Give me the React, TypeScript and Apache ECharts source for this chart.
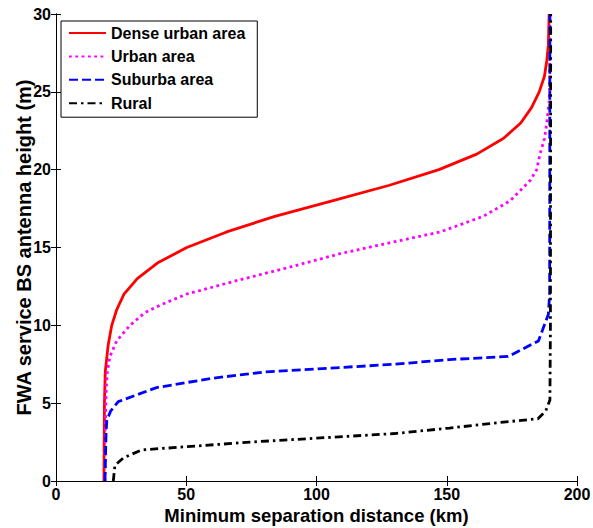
import React, { useEffect, useRef } from "react";
import * as echarts from "echarts";

const seriesNames = ["Dense urban area", "Urban area", "Suburba area", "Rural"];

const denseUrban: [number, number][] = [
  [18.4, 0], [18.6, 5], [18.9, 7], [20, 8.7], [21.4, 10], [23.3, 11], [26.1, 12], [31.2, 13],
  [38.9, 14], [50.2, 15], [65.5, 16], [84, 17], [106, 18], [128, 19], [147, 20], [161.5, 21],
  [171.7, 22], [178.4, 23], [182.6, 24], [185.5, 25], [187.5, 26], [188.4, 27], [189, 28], [189.3, 30],
];

const urban: [number, number][] = [
  [18.8, 0], [19, 4], [19.3, 6], [19.7, 7], [20.7, 8], [23.3, 9], [28.4, 10], [34, 10.8],
  [40, 11.3], [50, 12], [70, 12.9], [90, 13.75], [109, 14.6], [128, 15.3], [147.5, 16], [164, 17],
  [174.3, 18], [182, 19.3], [184.5, 20], [185.8, 21], [187.5, 22], [188.4, 23], [189.4, 24.5], [189.6, 30],
];

const suburban: [number, number][] = [
  [18.8, 0], [19.2, 3], [19.5, 3.9], [21, 4.5], [23.9, 5.1], [38.6, 6], [60, 6.6], [80, 7],
  [100, 7.2], [130, 7.5], [151, 7.8], [173.6, 8], [185.2, 9], [189, 10.7], [189.5, 12], [189.6, 30],
];

const rural: [number, number][] = [
  [22, 0], [22.3, 0.5], [22.6, 1], [26, 1.5], [32.9, 2], [50, 2.2], [74.5, 2.5], [100, 2.75],
  [130, 3.05], [151, 3.4], [170, 3.75], [185, 4], [188, 4.5], [189.6, 5.2], [189.8, 10], [189.9, 30],
];

const xTicks = { min: 0, max: 200, interval: 50 };
const yTicks = { min: 0, max: 30, interval: 5 };

const FONT = "Liberation Sans, Arial, sans-serif";

export default function App() {
  const ref = useRef<HTMLDivElement>(null);
  useEffect(() => {
    if (!ref.current) return;
    const chart = echarts.init(ref.current, undefined, { renderer: "svg" });
    const axisLine = { show: true, lineStyle: { color: "#000", width: 1 } };
    const tickIn = { show: true, inside: true, length: 5, lineStyle: { color: "#000" } };
    const label = { color: "#000", fontSize: 16, fontWeight: "bold", fontFamily: FONT };
    const mk = (name: string, data: [number, number][], color: string, type: any) => ({
      name,
      type: "line",
      data,
      showSymbol: false,
      symbol: "none",
      lineStyle: { color, width: 2.8, type },
      itemStyle: { color },
    });
    chart.setOption({
      animation: false,
      backgroundColor: "#fff",
      grid: {
        left: 56, right: 16, top: 14, bottom: 47,
        containLabel: false,
        outerBoundsMode: "none",
      },
      legend: {
        orient: "vertical",
        left: 61,
        top: 21,
        backgroundColor: "#fff",
        borderColor: "#000",
        borderWidth: 1,
        borderRadius: 0,
        padding: [4, 12, 6, 7],
        itemWidth: 37,
        itemHeight: 14,
        itemGap: 7.4,
        itemStyle: { opacity: 0 },
        textStyle: { color: "#000", fontSize: 16, lineHeight: 16, fontWeight: "bold", fontFamily: FONT },
        data: seriesNames,
      },
      xAxis: [
        {
          type: "value", ...xTicks, position: "bottom",
          axisLine, axisTick: tickIn, splitLine: { show: false },
          axisLabel: { ...label, margin: 5 },
          name: "Minimum separation distance (km)", nameLocation: "middle", nameGap: 25,
          nameMoveOverlap: false,
          nameTextStyle: { color: "#000", fontSize: 18.5, fontWeight: "bold", fontFamily: FONT },
        },
        {
          type: "value", ...xTicks, position: "top",
          axisLine, axisTick: tickIn, splitLine: { show: false }, axisLabel: { show: false },
        },
      ],
      yAxis: [
        {
          type: "value", ...yTicks, position: "left",
          axisLine, axisTick: tickIn, splitLine: { show: false },
          axisLabel: { ...label, margin: 5 },
          name: "FWA service BS antenna height (m)", nameLocation: "middle", nameGap: 22,
          nameMoveOverlap: false,
          nameTextStyle: { color: "#000", fontSize: 20, fontWeight: "bold", fontFamily: FONT },
        },
        {
          type: "value", ...yTicks, position: "right",
          axisLine, axisTick: tickIn, splitLine: { show: false }, axisLabel: { show: false },
        },
      ],
      series: [
        mk(seriesNames[0], denseUrban, "#ff0000", "solid"),
        mk(seriesNames[1], urban, "#ff00ff", [2.8, 3.5]),
        mk(seriesNames[2], suburban, "#0000ff", [9, 4]),
        mk(seriesNames[3], rural, "#000000", [8, 4, 2.5, 4]),
      ],
    });
    return () => chart.dispose();
  }, []);
  return (
    <div
      ref={ref}
      style={{ position: "absolute", left: 0, top: 0, width: 593, height: 528 }}
    />
  );
}
